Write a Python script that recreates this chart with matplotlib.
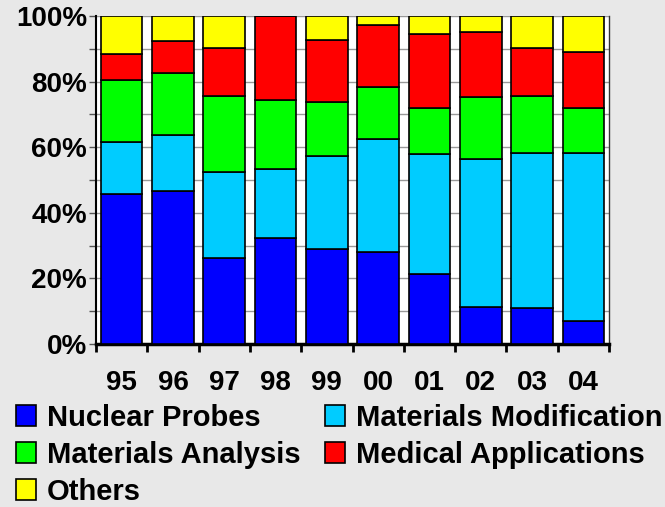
import matplotlib
matplotlib.use("Agg")
import matplotlib.pyplot as plt
import numpy as np
from matplotlib.patches import Patch

years = ["95", "96", "97", "98", "99", "00", "01", "02", "03", "04"]
nuclear_probes = [45.6, 46.6, 26.3, 32.3, 28.9, 28.0, 21.4, 11.4, 11.0, 6.9]
materials_modification = [16.0, 17.2, 26.1, 21.1, 28.4, 34.6, 36.4, 45.0, 47.1, 51.2]
materials_analysis = [18.8, 18.8, 23.2, 21.0, 16.5, 15.7, 14.0, 18.8, 17.5, 13.7]
medical_applications = [8.0, 9.9, 14.6, 25.6, 19.0, 18.9, 22.8, 19.9, 14.7, 17.1]
others = [11.6, 7.5, 9.8, 0.0, 7.2, 2.8, 5.4, 4.9, 9.7, 11.1]

series = [
    ("Nuclear Probes", nuclear_probes, "#0000ff"),
    ("Materials Modification", materials_modification, "#00ccff"),
    ("Materials Analysis", materials_analysis, "#00ff00"),
    ("Medical Applications", medical_applications, "#ff0000"),
    ("Others", others, "#ffff00"),
]

plt.rcParams['font.family'] = ['Liberation Sans', 'DejaVu Sans']
fig = plt.figure(figsize=(6.65, 5.07), dpi=100, facecolor="#e8e8e8")
ax = fig.add_axes([96/665, 1-344/507, (609-96)/665, (344-16)/507])
ax.set_facecolor("white")

x = np.arange(len(years))
bottom = np.zeros(len(years))
for name, vals, col in series:
    v = np.array(vals)
    ax.bar(x, v, bottom=bottom, width=0.81, color=col, edgecolor="black",
           linewidth=1.2, zorder=3, label=name)
    bottom += v

ax.set_xlim(-0.5, len(years) - 0.5)
ax.set_ylim(0, 100)

ax.set_yticks(np.arange(0, 101, 20))
ax.set_yticklabels([f"{v}%" for v in range(0, 101, 20)], fontsize=20, fontweight="bold")
ax.set_yticks(np.arange(10, 100, 20), minor=True)
ax.yaxis.grid(True, which="both", color="#999999", linewidth=1, zorder=0)
ax.tick_params(axis="y", which="both", length=5, width=1, color="#555555", pad=1.5)

ax.set_xticks(np.arange(-0.5, len(years), 1.0))
ax.set_xticklabels([])
ax.set_xticks(x, years, minor=True)
ax.tick_params(axis="x", which="major", length=5.5, width=2, color="black")
ax.tick_params(axis="x", which="minor", length=0, pad=19, labelsize=20)
for lab in ax.get_xticklabels(minor=True):
    lab.set_fontweight("bold")

ax.spines["top"].set_visible(False)
ax.spines["bottom"].set_linewidth(2.5)
ax.spines["left"].set_linewidth(1.5)
ax.spines["right"].set_linewidth(1.0)
ax.spines["right"].set_color("#333333")

order = [0, 2, 4, 1, 3]
handles = [Patch(facecolor=series[i][2], edgecolor="black", linewidth=1.2, label=series[i][0]) for i in order]
leg = fig.legend(handles=handles, ncol=2, loc="upper left", bbox_to_anchor=(0.024, 0.204),
                 frameon=False, prop={"size": 21, "weight": "bold"},
                 handlelength=0.7, handleheight=0.7, handletextpad=0.35,
                 labelspacing=0.31, columnspacing=0.85, borderaxespad=0, borderpad=0)

fig.savefig("out.png", dpi=100, facecolor=fig.get_facecolor())
